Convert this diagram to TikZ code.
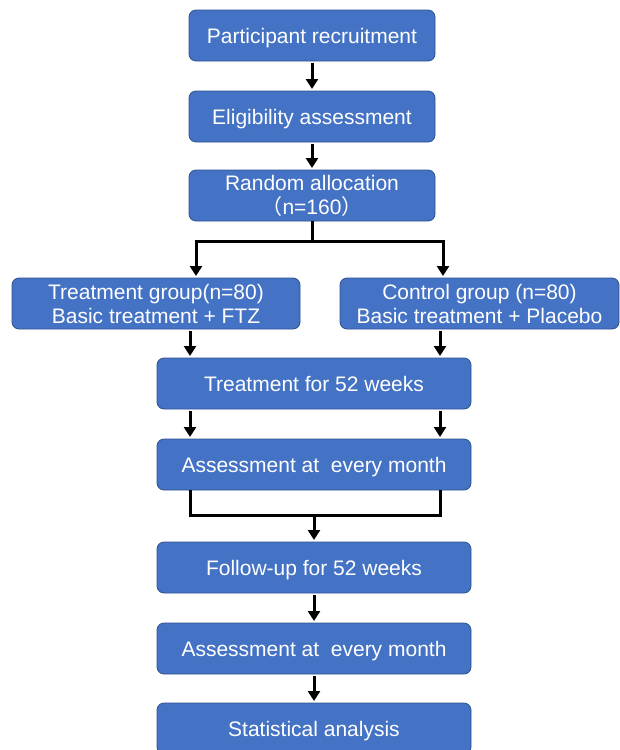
\documentclass[tikz,border=0pt]{standalone}
\usepackage{fontspec}
\setmainfont{Liberation Sans}
\newfontfamily\cjk{Noto Sans CJK SC}
\usepackage{tikz}
\usetikzlibrary{positioning, arrows.meta}
\definecolor{boxblue}{HTML}{4472C4}
\definecolor{boxedge}{HTML}{2F528F}
\tikzset{
    x=1pt, y=1pt, % one unit is one pixel of the figure
    every node/.style={font=\fontsize{21}{24}\selectfont, text=white}, % white sans text
    >={Triangle[width=12pt, length=10pt]}, % filled arrow heads
}

\begin{document}
\begin{tikzpicture}[
                                stepbox/.style={draw=boxedge, line width=0.8pt, fill=boxblue, rounded corners=7pt,
                                    minimum width=246pt, minimum height=51pt, inner sep=0pt, outer sep=0pt, align=center},
                                oneline/.style={text depth=0pt},
                                wide/.style={minimum width=314pt, oneline},
                                link/.style={draw=black, line width=3pt},
                                arrow/.style={link, ->, shorten >=2pt},
                                node distance=30pt,
                            ]
                            \useasboundingbox (0,0) rectangle (620,-750);
                            \node[stepbox, oneline] at (312,-35.5) (recruit) {Participant recruitment};
                            \node[stepbox, oneline, below=of recruit] (elig) {Eligibility assessment};
                            \node[stepbox, below=28pt of elig] (alloc) {Random allocation\\{\cjk （}n=160{\cjk ）}};
                            \node[stepbox, minimum width=288pt] at (156,-303.5) (treat) {Treatment group(n=80)\\Basic treatment + FTZ};
                            \node[stepbox, minimum width=279pt] at (479.5,-303.5) (control) {Control group (n=80)\\Basic treatment + Placebo};
                            \node[stepbox, wide] at (314,-383.5) (weeks) {Treatment for 52 weeks};
                            \node[stepbox, wide, below=of weeks] (assessA) {Assessment at\ \ every month};
                            \node[stepbox, wide, below=52pt of assessA] (follow) {Follow-up for 52 weeks};
                            \node[stepbox, wide, below=of follow] (assessB) {Assessment at\ \ every month};
                            \node[stepbox, wide, below=29pt of assessB] (stats) {Statistical analysis};
                            \coordinate (fork) at ([yshift=-20pt]alloc.south);
                            \coordinate (join) at ([yshift=-25pt]assessA.south);
                            \draw[arrow, shorten <=2pt] (recruit) -- (elig);
                            \draw[arrow, shorten <=2pt] (elig) -- (alloc);
                            \draw[link] (alloc.south) -- (fork);
                            \draw[arrow] (fork) -| ([xshift=40pt]treat.north);
                            \draw[arrow] (fork) -| ([xshift=-36.5pt]control.north);
                            \draw[arrow, shorten <=2pt] ([xshift=34pt]treat.south) -- ([xshift=-124pt]weeks.north);
                            \draw[arrow, shorten <=2pt] ([xshift=-39.5pt]control.south) -- ([xshift=126pt]weeks.north);
                            \draw[arrow, shorten <=2pt] ([xshift=-124pt]weeks.south) -- ([xshift=-124pt]assessA.north);
                            \draw[arrow, shorten <=2pt] ([xshift=126pt]weeks.south) -- ([xshift=126pt]assessA.north);
                            \draw[link] ([xshift=-124pt]assessA.south) |- ([xshift=126pt]join) -- ([xshift=126pt]assessA.south);
                            \draw[arrow] (join) -- (follow);
                            \draw[arrow, shorten <=2pt] (follow) -- (assessB);
                            \draw[arrow, shorten <=2pt] (assessB) -- (stats);
                        \end{tikzpicture}
\end{document}
